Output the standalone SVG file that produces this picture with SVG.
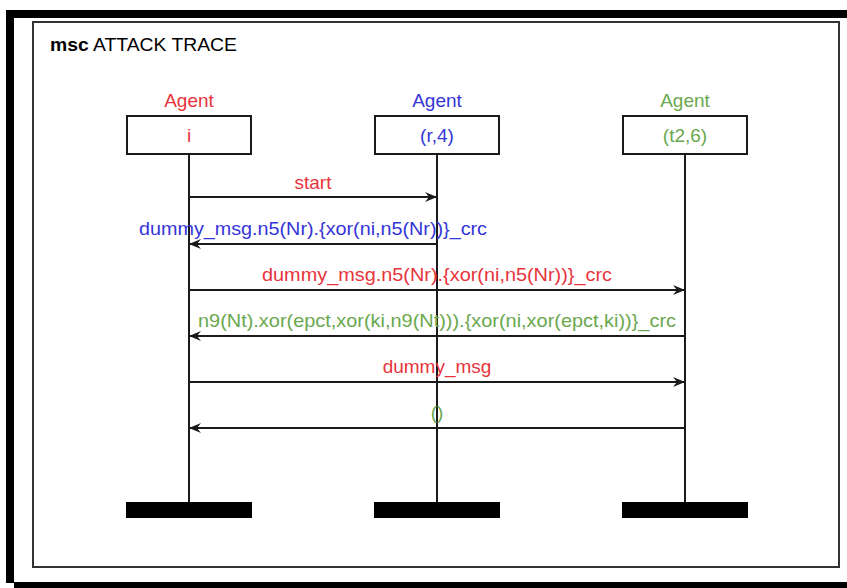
<svg xmlns="http://www.w3.org/2000/svg" width="847" height="588" viewBox="0 0 847 588">
<style>
text{font-family:"Liberation Sans",Arial,sans-serif;font-size:19px;text-anchor:middle}
.red{fill:#e8343c}.blue{fill:#3535d8}.green{fill:#6aa84f}
.box{fill:#fff;stroke:#1a1a1a;stroke-width:2}
.life{stroke:#1a1a1a;stroke-width:2}
.end{fill:#000}
.msg{stroke:#1a1a1a;stroke-width:2;fill:none;marker-end:url(#ah)}
</style>
<defs>
<marker id="ah" viewBox="0 0 12 10" refX="12" refY="5" markerWidth="12" markerHeight="10" markerUnits="userSpaceOnUse" orient="auto">
<path d="M0,0 L12,5 L0,10 L4,5 Z" fill="#1a1a1a"/>
</marker>
</defs>
<rect width="847" height="588" fill="#fff"/>
<g id="frame">
<rect x="6" y="10" width="8" height="573" fill="#000"/>
<rect x="6" y="10" width="841" height="8" fill="#000"/>
<rect x="14" y="582" width="833" height="6" fill="#000"/>
<rect x="33" y="22" width="806" height="545" fill="none" stroke="#333" stroke-width="2"/>
<text x="50" y="51" style="text-anchor:start" textLength="187" lengthAdjust="spacingAndGlyphs"><tspan font-weight="bold">msc</tspan> ATTACK TRACE</text>
</g>
<g id="agent-i">
<text class="red" x="189" y="107">Agent</text>
<rect class="box" x="127" y="116" width="124" height="38"/>
<text class="red" x="189" y="142">i</text>
<line class="life" x1="189" y1="154" x2="189" y2="502"/>
<rect class="end" x="126" y="502" width="126" height="16"/>
</g>
<g id="agent-r4">
<text class="blue" x="437" y="107">Agent</text>
<rect class="box" x="375" y="116" width="124" height="38"/>
<text class="blue" x="437" y="142">(r,4)</text>
<line class="life" x1="437" y1="154" x2="437" y2="502"/>
<rect class="end" x="374" y="502" width="126" height="16"/>
</g>
<g id="agent-t26">
<text class="green" x="685" y="107">Agent</text>
<rect class="box" x="623" y="116" width="124" height="38"/>
<text class="green" x="685" y="142">(t2,6)</text>
<line class="life" x1="685" y1="154" x2="685" y2="502"/>
<rect class="end" x="622" y="502" width="126" height="16"/>
</g>
<g id="connectors">
<line class="msg" x1="189" y1="197" x2="437" y2="197"/>
<text class="red" x="313" y="189">start</text>
<line class="msg" x1="437" y1="244" x2="189" y2="244"/>
<text class="blue" x="313" y="235" textLength="348" lengthAdjust="spacingAndGlyphs">dummy_msg.n5(Nr).{xor(ni,n5(Nr))}_crc</text>
<line class="msg" x1="189" y1="290" x2="685" y2="290"/>
<text class="red" x="437" y="281" textLength="350" lengthAdjust="spacingAndGlyphs">dummy_msg.n5(Nr).{xor(ni,n5(Nr))}_crc</text>
<line class="msg" x1="685" y1="336" x2="189" y2="336"/>
<text class="green" x="437" y="327" textLength="478" lengthAdjust="spacingAndGlyphs">n9(Nt).xor(epct,xor(ki,n9(Nt))).{xor(ni,xor(epct,ki))}_crc</text>
<line class="msg" x1="189" y1="382" x2="685" y2="382"/>
<text class="red" x="437" y="373">dummy_msg</text>
<line class="msg" x1="685" y1="428" x2="189" y2="428"/>
<text class="green" x="437" y="419">()</text>
</g>
</svg>
